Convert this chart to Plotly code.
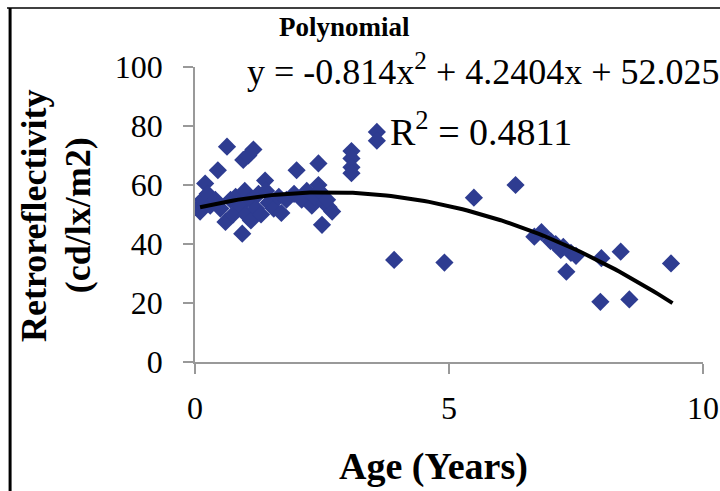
import numpy as np
import plotly.graph_objects as go

# age (years) and retroreflectivity (cd/lx/m2)
age = [0.07, 0.10, 0.15, 0.20, 0.25, 0.30, 0.45, 0.40, 0.50,
       0.63, 0.60, 0.70, 0.75, 0.80, 0.90, 0.93, 0.95, 0.98, 1.00,
       1.05, 1.15, 1.10, 1.10, 1.20, 1.25, 1.30, 1.38, 1.40, 1.45,
       1.55, 1.65, 1.70, 1.80, 2.00, 1.95,
       2.10, 2.20, 2.30, 2.35, 2.43, 2.43, 2.45, 2.50, 2.55, 2.63, 2.70, 2.60,
       3.08, 3.08, 3.08, 3.08, 3.58, 3.58,
       3.92, 4.91, 5.49, 6.31, 6.82, 6.68,
       7.00, 7.10, 7.20, 7.25, 7.40, 7.50, 7.31,
       8.00, 8.38, 7.98, 8.55, 9.37]
retro = [52.5, 51, 55, 60.5, 57, 53, 65, 55, 52,
         73, 47.5, 55, 50, 56, 53, 43.5, 68.5, 58, 50,
         70, 72, 55, 48, 52, 57, 50, 61.5, 58, 54,
         52, 56, 50.5, 55, 65, 57,
         55, 58, 53, 56, 67.3, 60, 58, 46.5, 54, 52.5, 51, 55,
         71.5, 69, 66, 64, 78, 75,
         34.6, 33.7, 55.7, 60, 44, 42.5,
         41, 40, 38, 39, 37, 36, 30.6,
         35.2, 37.4, 20.4, 21.2, 33.4]

# trendline shown on the chart
coef = [-0.814, 4.2404, 52.025]
r2 = 0.4811
fit_x = np.linspace(0.1, 9.4, 100)
fit_y = np.polyval(coef, fit_x)

serif = "Liberation Serif"
blue = "rgb(46,60,145)"

fig = go.Figure()
fig.add_trace(go.Scatter(x=age, y=retro, mode="markers",
                         marker=dict(symbol="diamond", size=14, color=blue),
                         showlegend=False))
fig.add_trace(go.Scatter(x=fit_x, y=fit_y, mode="lines",
                         line=dict(color="black", width=4), showlegend=False))

axis_common = dict(showgrid=False, zeroline=False, showline=True, automargin=False,
                   linecolor="#999999", linewidth=1.5,
                   ticks="outside", ticklen=10, tickwidth=1.5, tickcolor="#999999",
                   tickfont=dict(family=serif, size=32, color="black"))
fig.update_xaxes(range=[0, 10], tickvals=[0, 5, 10], ticklabelstandoff=7, **axis_common)
fig.update_yaxes(range=[0, 100], tickvals=[0, 20, 40, 60, 80, 100], ticklabelstandoff=14, **axis_common)

ann = dict(xref="paper", yref="paper", showarrow=False, xanchor="center", yanchor="middle")
fig.update_layout(
    width=720, height=491,
    margin=dict(l=195, r=17, t=67, b=129),
    plot_bgcolor="white", paper_bgcolor="white",
    font=dict(family=serif, color="black"),
    annotations=[
        dict(ann, text="<b>Polynomial</b>", x=0.295, y=1.136, font=dict(size=27)),
        dict(ann, text="y = -0.814x<sup>2</sup> + 4.2404x + 52.025", x=0.098, y=0.99,
             xanchor="left", font=dict(size=36)),
        dict(ann, text="R<sup>2</sup> = %.4f" % r2, x=0.38, y=0.79,
             xanchor="left", font=dict(size=38)),
        dict(ann, text="<b>Age (Years)</b>", x=0.47, y=-0.355, font=dict(size=38)),
        dict(ann, text="<b>Retroreflectivity</b>", x=-0.317, y=0.498,
             textangle=-90, font=dict(size=36)),
        dict(ann, text="<b>(cd/lx/m2)</b>", x=-0.23, y=0.498,
             textangle=-90, font=dict(size=36)),
    ],
    shapes=[
        dict(type="line", xref="paper", yref="paper", x0=-0.364, x1=-0.364, y0=1.2, y1=-0.45,
             line=dict(color="black", width=3)),
        dict(type="line", xref="paper", yref="paper", x0=-0.37, x1=1.04, y0=1.2, y1=1.2,
             line=dict(color="black", width=1.5)),
    ],
)

fig.write_html("out.html", config={"displayModeBar": False},
               post_script="document.body.style.margin='0px';")
